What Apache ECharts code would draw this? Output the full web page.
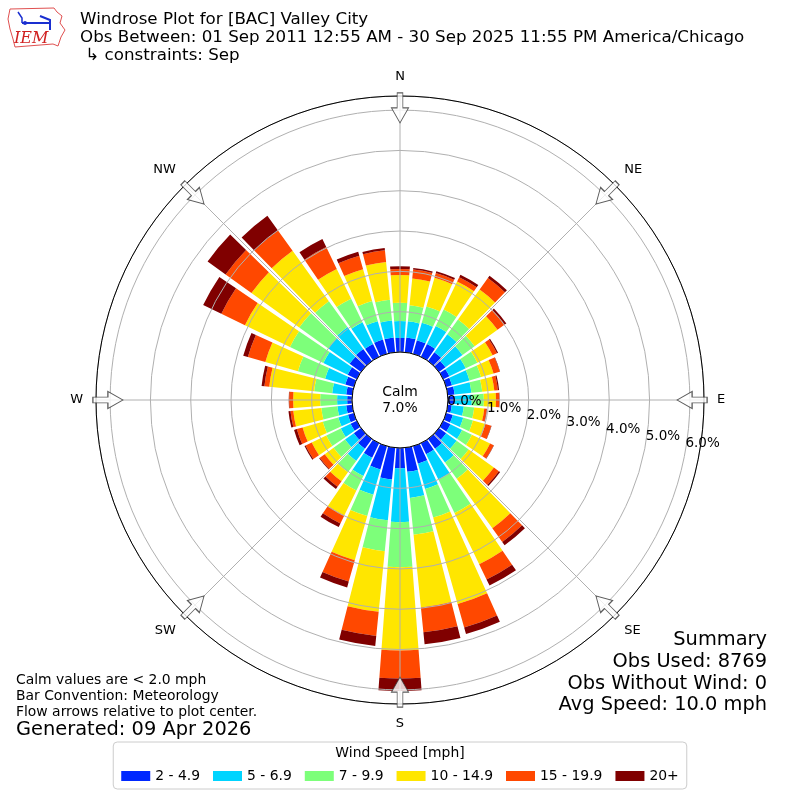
<!DOCTYPE html>
<html><head><meta charset="utf-8">
<script src="https://cdn.jsdelivr.net/npm/echarts@6/dist/echarts.min.js"></script>
<style>html,body{margin:0;padding:0;background:#fff}#c{width:800px;height:800px}</style>
</head><body><div id="c"></div>
<script>
// ---- data ----
const directions = [0,10,20,30,40,50,60,70,80,90,100,110,120,130,140,150,160,170,180,190,200,210,220,230,240,250,260,270,280,290,300,310,320,330,340,350];
const speedBins = ['2 - 4.9','5 - 6.9','7 - 9.9','10 - 14.9','15 - 19.9','20+'];
const speed_2_4_9   = [.35,.37,.35,.35,.27,.20,.17,.15,.17,.17,.10,.17,.20,.22,.30,.30,.45,.60,.50,.79,.60,.40,.30,.22,.17,.15,.15,.12,.15,.22,.25,.35,.37,.35,.37,.37];
const speed_5_6_9   = [.42,.40,.45,.50,.55,.52,.45,.45,.42,.42,.30,.27,.32,.32,.42,.70,.65,.65,1.34,1.02,.65,.50,.37,.27,.27,.25,.22,.25,.35,.52,.67,.65,.67,.60,.47,.42];
const speed_7_9_9   = [.45,.40,.42,.45,.45,.37,.32,.30,.27,.30,.26,.25,.27,.37,.50,.92,.74,.92,1.12,.77,.55,.40,.35,.35,.40,.40,.40,.42,.45,.70,.92,.89,.79,.65,.52,.52];
const speed_10_14_9 = [.69,.67,.74,.77,.92,.70,.42,.32,.30,.30,.25,.32,.50,.77,1.51,1.41,2.23,1.81,2.06,1.51,1.14,.69,.27,.27,.40,.52,.70,.67,1.12,.84,1.24,1.46,1.54,.82,.82,.94];
const speed_15_19_9 = [.15,.22,.12,.12,.35,.22,.12,.16,.09,.08,.06,.15,.10,.15,.42,.42,.60,.62,.70,.60,.55,.22,.17,.15,.17,.15,.07,.10,.12,.45,.65,.79,.62,.60,.35,.29];
const speed_20_plus = [.07,.04,.05,.07,.07,.05,.03,.01,.03,.01,.01,.01,.01,.04,.10,.17,.17,.30,.31,.25,.15,.10,.07,.02,.03,.07,.05,.01,.07,.12,.50,.55,.45,.22,.10,.06];
const radialTicks = [0,1,2,3,4,5,6];
const compassLabels = ['N','NE','E','SE','S','SW','W','NW'];
const compassAngles = [0,45,90,135,180,225,270,315];
const calmPercent = 7.0;
const obsUsed = 8769, obsWithoutWind = 0, avgSpeed = 10.0;

// ---- style ----
const FONT = 'DejaVu Sans';
const colors = ['#0028ff','#00d4ff','#7dff7a','#ffe600','#ff4800','#800000'];
const CX = 400, CY = 400, R0 = 48, R1 = 304, RMAX = 6.35;
const binData = [speed_2_4_9, speed_5_6_9, speed_7_9_9, speed_10_14_9, speed_15_19_9, speed_20_plus];

const chart = echarts.init(document.getElementById('c'), null, {renderer:'canvas'});

const barSeries = speedBins.map((name, i) => ({
  type:'bar', name, coordinateSystem:'polar', polarIndex:0, stack:'wind',
  data: binData[i], itemStyle:{color: colors[i]}, barCategoryGap:'15%', z:2, silent:true
}));

const arrowSeries = {
  type:'scatter', coordinateSystem:'polar', polarIndex:1, z:20, silent:true,
  symbol:'path://M-3,0 L3,0 L3,15 L9,15 L0,30 L-9,15 L-3,15 Z',
  symbolSize:[17,30],
  itemStyle:{color:'#ffffff', borderColor:'#333333', borderWidth:1},
  data: compassAngles.map(a => ({value:[6.055, a], symbolRotate:-a}))
};

function txt(x, y, text, size, align, extra) {
  return Object.assign({type:'text', x, y, z:50, style:Object.assign({
    text, fill:'#000', fontSize:size, fontFamily:FONT,
    align: align||'left', textAlign: align||'left', verticalAlign:'middle', textVerticalAlign:'middle'
  }, extra||{})});
}

const option = {
  animation:false,
  backgroundColor:'#fff',
  polar:[
    {center:[CX,CY], radius:[R0,R1]},
    {center:[CX,CY], radius:[R0,R1]},
    {center:[CX,CY], radius:[R0,R1]}
  ],
  angleAxis:[
    {polarIndex:0, type:'category', data:directions.map(String), startAngle:95, clockwise:true, boundaryGap:true,
     axisLine:{show:false}, axisTick:{show:false}, axisLabel:{show:false}, splitLine:{show:false}},
    {polarIndex:1, type:'value', min:0, max:360, interval:45, startAngle:90, clockwise:true, z:10,
     axisLine:{show:true, lineStyle:{color:'#000', width:1}}, axisTick:{show:false},
     axisLabel:{margin:13, color:'#000', fontSize:13, fontFamily:FONT, align:'center', verticalAlign:'middle',
       formatter: v => compassLabels[Math.round(v/45)] && v < 360 ? compassLabels[Math.round(v/45)] : ''},
     splitLine:{show:true, lineStyle:{color:'#b0b0b0', width:1}}},
    {polarIndex:2, type:'value', min:0, max:360, startAngle:-10, clockwise:true,
     axisLine:{show:false}, axisTick:{show:false}, axisLabel:{show:false}, splitLine:{show:false}}
  ],
  radiusAxis:[
    {polarIndex:0, type:'value', min:0, max:RMAX, axisLine:{show:false}, axisTick:{show:false}, axisLabel:{show:false}, splitLine:{show:false}},
    {polarIndex:1, type:'value', min:0, max:RMAX, interval:1, z:10, axisLine:{show:false}, axisTick:{show:false}, axisLabel:{show:false},
     splitLine:{show:true, lineStyle:{color:'#b0b0b0', width:1}}},
    {polarIndex:2, type:'value', min:0, max:RMAX, interval:1, z:12, axisLine:{show:false}, axisTick:{show:false}, splitLine:{show:false},
     axisLabel:{show:true, color:'#000', fontSize:13.5, fontFamily:FONT, margin:0, align:'left', verticalAlign:'bottom',
       showMaxLabel:false,
       formatter: v => radialTicks.indexOf(v) >= 0 ? v.toFixed(1) + '%' : ''}}
  ],
  legend:{
    data:speedBins, selectedMode:false, icon:'rect', itemWidth:29, itemHeight:10, itemGap:13,
    left:'center', top:742, padding:[27,8,6,8], borderColor:'#cccccc', borderWidth:1, borderRadius:4,
    backgroundColor:'#fff', textStyle:{color:'#000', fontSize:13.9, fontFamily:FONT}
  },
  graphic:[
    // logo
    {type:'polyline', z:50, shape:{points:[[10,9],[54,8],[57,12],[62,16],[60,23],[65,30],[61,37],[58,46],[53,44],[15,47],[13,39],[10,29],[8,19],[10,9]]},
     style:{stroke:'#e05050', lineWidth:1, fill:null}},
    {type:'polyline', z:51, shape:{points:[[22,23],[50,23]]}, style:{stroke:'#1a2fd0', lineWidth:2}},
    {type:'polyline', z:51, shape:{points:[[18,12],[22,18],[22,23]]}, style:{stroke:'#1a2fd0', lineWidth:1.5}},
    {type:'polyline', z:51, shape:{points:[[40,16],[50,20],[50,30]]}, style:{stroke:'#1a2fd0', lineWidth:2}},
    {type:'circle', z:51, shape:{cx:25, cy:23, r:2}, style:{fill:'#1a2fd0'}},
    txt(14, 39, 'IEM', 16, 'left', {fontFamily:'DejaVu Serif', fontStyle:'italic', fill:'#d02020'}),
    // titles
    txt(80, 20, 'Windrose Plot for [BAC] Valley City', 16.7),
    txt(80, 38, 'Obs Between: 01 Sep 2011 12:55 AM - 30 Sep 2025 11:55 PM America/Chicago', 16.7),
    txt(80, 56, ' \u21b3 constraints: Sep', 16.7),
    // calm
    txt(CX, CY - 8, 'Calm', 13.9, 'center'),
    txt(CX, CY + 8, calmPercent.toFixed(1) + '%', 13.9, 'center'),
    // notes
    txt(16, 680, 'Calm values are < 2.0 mph', 13.9),
    txt(16, 696, 'Bar Convention: Meteorology', 13.9),
    txt(16, 712, 'Flow arrows relative to plot center.', 13.9),
    txt(16, 730, 'Generated: 09 Apr 2026', 19.4),
    // summary
    txt(767, 640, 'Summary', 19.4, 'right'),
    txt(767, 662, 'Obs Used: ' + obsUsed, 19.4, 'right'),
    txt(767, 684, 'Obs Without Wind: ' + obsWithoutWind, 19.4, 'right'),
    txt(767, 705, 'Avg Speed: ' + avgSpeed.toFixed(1) + ' mph', 19.4, 'right'),
    // legend title
    txt(400, 753, 'Wind Speed [mph]', 13.9, 'center')
  ],
  series: barSeries.concat([arrowSeries])
};
chart.setOption(option);
</script>
</body></html>
